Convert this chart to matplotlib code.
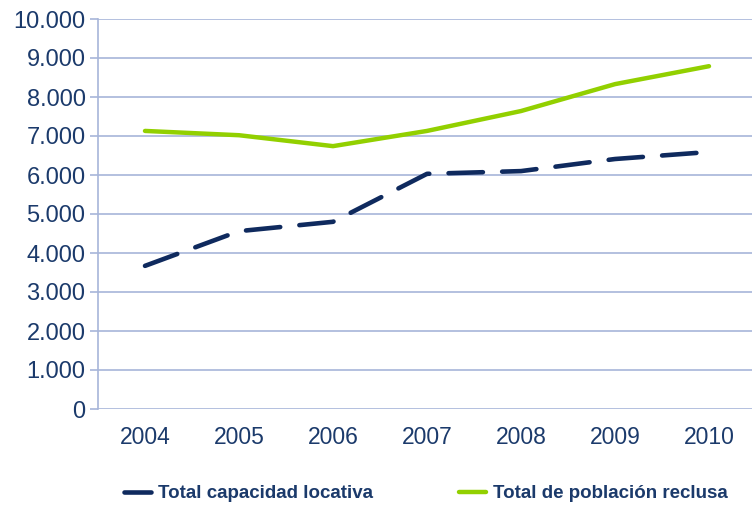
import matplotlib.pyplot as plt
from matplotlib.ticker import FuncFormatter

plt.rcParams['font.family'] = ['Liberation Sans', 'DejaVu Sans']

years = ['2004', '2005', '2006', '2007', '2008', '2009', '2010']
capacidad = [3670, 4560, 4800, 6030, 6100, 6410, 6590]
poblacion = [7130, 7020, 6740, 7130, 7640, 8330, 8790]

navy = '#0F2A5E'
green = '#92D000'
grid_col = '#A7B5D9'
text_col = '#1B3A6B'

fig = plt.figure(figsize=(7.52, 5.05), dpi=100)
ax = fig.add_axes([98 / 752, 1 - 409 / 505, 658 / 752, 390 / 505])

x = range(len(years))
ax.plot(x, capacidad, color=navy, lw=3.3, dashes=(7.5, 4.2), dash_capstyle='round',
        solid_capstyle='round', label='Total capacidad locativa')
ax.plot(x, poblacion, color=green, lw=3.2, solid_capstyle='round',
        label='Total de población reclusa')

ax.set_xlim(-0.5, 6.5)
ax.set_ylim(0, 10000)
ax.set_yticks(range(0, 10001, 1000))
ax.yaxis.set_major_formatter(FuncFormatter(lambda v, p: f'{int(v):,}'.replace(',', '.')))
ax.set_xticks(list(x))
ax.set_xticklabels(years)

ax.grid(axis='y', color=grid_col, lw=1.2)
ax.set_axisbelow(True)
for s in ['top', 'right', 'bottom']:
    ax.spines[s].set_visible(False)
ax.spines['left'].set_color(grid_col)
ax.spines['left'].set_linewidth(1.2)
ax.tick_params(axis='y', colors=grid_col, length=6, width=1.2, labelcolor=text_col,
               labelsize=17, pad=3)
ax.tick_params(axis='x', length=0, labelcolor=text_col, labelsize=16.5, pad=12)

leg = fig.legend(loc='lower center', bbox_to_anchor=(0.566, -0.028), ncol=2, frameon=False,
                 handlelength=1.45, columnspacing=4.6, handletextpad=0.35,
                 prop={'weight': 'bold', 'size': 13.5})
for t in leg.get_texts():
    t.set_color(text_col)

fig.savefig('out.png', dpi=100)
